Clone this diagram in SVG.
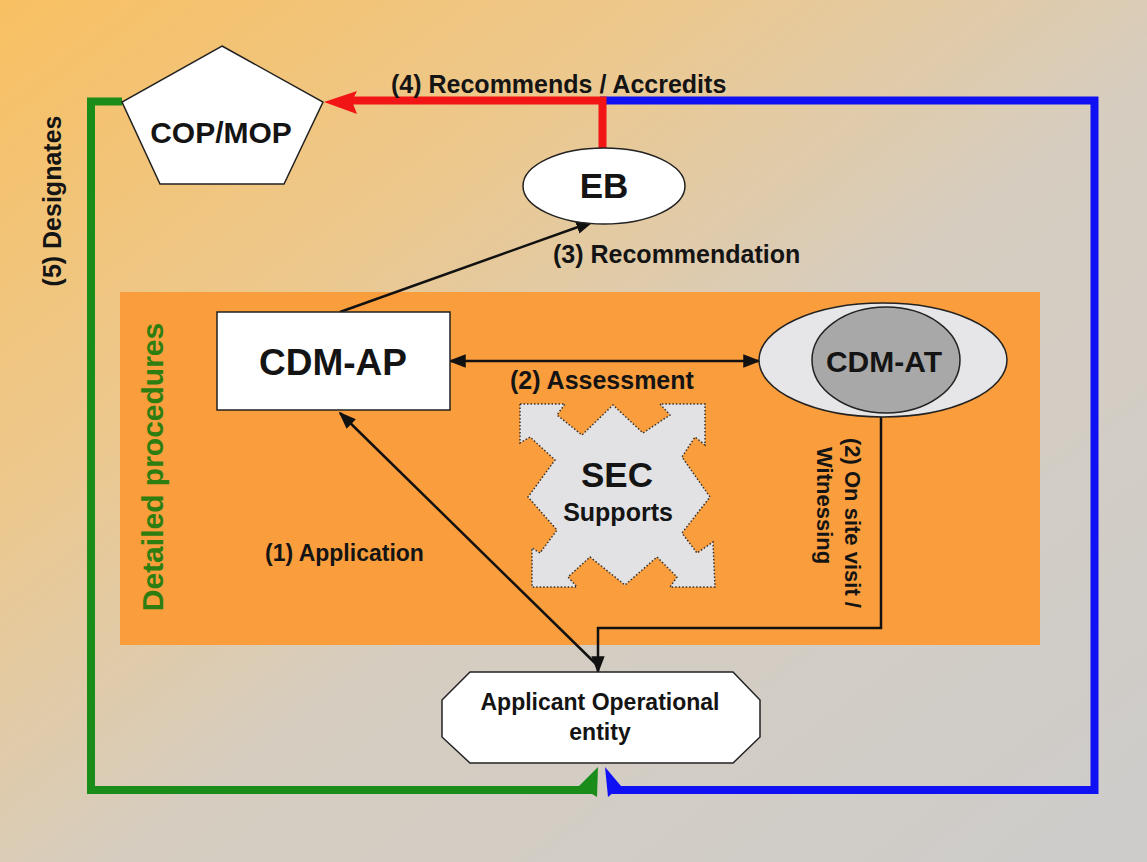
<svg xmlns="http://www.w3.org/2000/svg" width="1147" height="862" viewBox="0 0 1147 862">
<defs>
<linearGradient id="bg" x1="0" y1="0" x2="1" y2="1">
<stop offset="0" stop-color="#f8c062"/>
<stop offset="0.3" stop-color="#ecc88e"/>
<stop offset="0.55" stop-color="#d6cdc0"/>
<stop offset="1" stop-color="#cdcccb"/>
</linearGradient>
<marker id="ahb" viewBox="0 0 10 10" refX="9" refY="5" markerWidth="7" markerHeight="7" orient="auto-start-reverse">
<path d="M0,1.2 L10,5 L0,8.8 z" fill="#111"/>
</marker>
</defs>
<style>
.lbl{font-family:"Liberation Sans",Arial,sans-serif;font-weight:bold;fill:#141414}
.node{stroke:#222;stroke-width:1.5}
.blk{fill:none;stroke:#111;stroke-width:2.5}
.col{fill:none;stroke-width:8;stroke-linejoin:miter}
</style>
<rect x="0" y="0" width="1147" height="862" fill="url(#bg)"/>
<rect id="panel" x="120" y="292" width="920" height="353" fill="#fa9d3c"/>

<g id="connectors">
<path class="col" stroke="#1a8c1a" d="M122,101.5 H91 V790 H592"/>
<polygon points="579,786 597,797 598,767" fill="#1a8c1a"/>
<path class="col" stroke="#1010f5" d="M600,100.5 H1094.5 V790 H612"/>
<polygon points="605,767 608,797 621,786" fill="#1010f5"/>
<path class="col" stroke="#f21515" d="M602.5,149 V100.5 H352"/>
<polygon points="324,102 357,91 352,101 357,114" fill="#f21515"/>
<path class="blk" d="M450,361 H759" marker-start="url(#ahb)" marker-end="url(#ahb)"/>
<path class="blk" d="M340,312 L592,222" marker-end="url(#ahb)"/>
<path class="blk" d="M596,664 L340,413" marker-end="url(#ahb)"/>
<path class="blk" d="M881,414 V628 H598 V672" marker-end="url(#ahb)"/>
</g>

<g id="copmop">
<polygon class="node" points="222,46 323,102 284,184 160,184 122,102" fill="#ffffff"/>
<text class="lbl" x="221" y="143" font-size="30" text-anchor="middle">COP/MOP</text>
</g>
<g id="eb">
<ellipse class="node" cx="604" cy="186" rx="81" ry="38" fill="#ffffff"/>
<text class="lbl" x="604" y="198" font-size="35" text-anchor="middle">EB</text>
</g>
<g id="cdmap">
<rect class="node" x="217" y="312" width="233" height="98" fill="#ffffff"/>
<text class="lbl" x="333" y="375" font-size="37" text-anchor="middle">CDM-AP</text>
</g>
<g id="cdmat">
<ellipse class="node" cx="883" cy="360" rx="124" ry="57" fill="#e6e6e8"/>
<ellipse class="node" cx="886" cy="360" rx="74" ry="53" fill="#a8a8a8"/>
<text class="lbl" x="884" y="372" font-size="30" text-anchor="middle">CDM-AT</text>
</g>
<g id="sec">
<polygon points="520,404 565,404 557,415 582,435 613,405 643,433 670,415 660,404 705,404 705,445 695,437 682,457 710,497 682,533 697,553 713,542 715,587 670,587 677,577 657,557 625,585 590,557 568,577 577,587 532,587 532,548 540,553 557,530 528,497 555,460 530,437 520,443" fill="#e2e2e4" stroke="#333" stroke-width="1.5" stroke-dasharray="1.5 2"/>
<text class="lbl" x="617" y="487" font-size="35" text-anchor="middle">SEC</text>
<text class="lbl" x="618" y="521" font-size="25" text-anchor="middle">Supports</text>
</g>
<g id="applicant">
<polygon class="node" points="470,672 733,672 760,700 760,737 733,763 470,763 442,737 442,700" fill="#ffffff"/>
<text class="lbl" x="600" y="710" font-size="23" text-anchor="middle">Applicant Operational</text>
<text class="lbl" x="600" y="740" font-size="23" text-anchor="middle">entity</text>
</g>

<g id="labels">
<text class="lbl" x="391" y="93" font-size="25">(4) Recommends / Accredits</text>
<text class="lbl" x="553" y="263" font-size="25">(3) Recommendation</text>
<text class="lbl" x="510" y="389" font-size="25">(2) Assessment</text>
<text class="lbl" x="265" y="561" font-size="23">(1) Application</text>
<text class="lbl" font-size="25" text-anchor="middle" transform="translate(61,201) rotate(-90)">(5) Designates</text>
<text class="lbl" font-size="30" text-anchor="middle" style="fill:#2e7d10" transform="translate(163,467) rotate(-90)">Detailed procedures</text>
<text class="lbl" font-size="22" transform="translate(845,438) rotate(90)">(2) On site visit /</text>
<text class="lbl" font-size="22" transform="translate(817,447) rotate(90)">Witnessing</text>
</g>
</svg>
